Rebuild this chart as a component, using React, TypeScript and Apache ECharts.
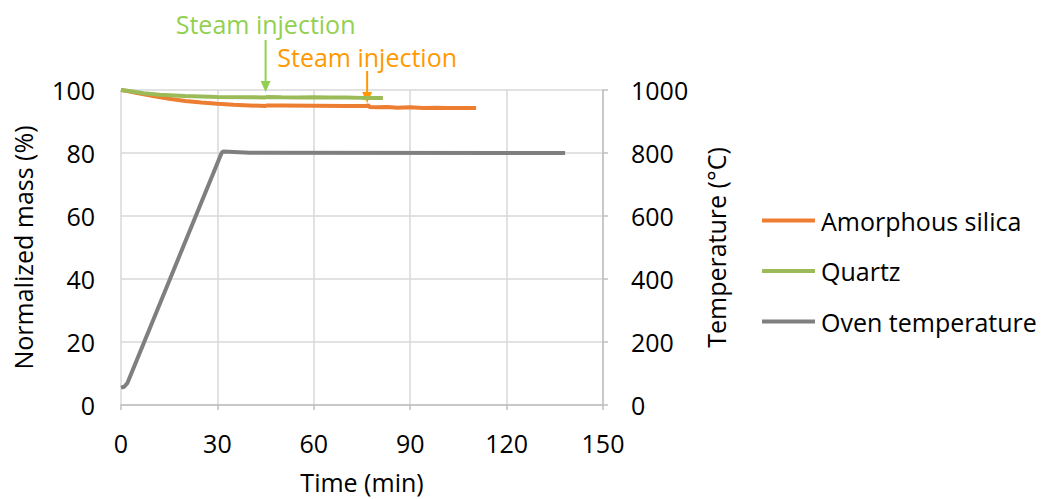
import React, { useEffect, useRef } from "react";
import * as echarts from "echarts";

const FONT = "Open Sans";
const FS = 25;

const xTicks = [0, 30, 60, 90, 120, 150];

const timeAmorphous = [0, 2, 5, 10, 15, 20, 25, 30, 35, 40, 44.9, 45.3, 50, 60, 70, 76.6, 76.9, 77.3, 80, 83, 86, 90, 94, 98, 102, 106, 110.5];
const massAmorphous = [100, 99.7, 99.0, 98.1, 97.2, 96.5, 96.0, 95.6, 95.3, 95.1, 94.9, 95.1, 95.1, 95.0, 94.9, 94.9, 95.3, 94.6, 94.5, 94.6, 94.4, 94.5, 94.3, 94.4, 94.3, 94.3, 94.3];

const timeQuartz = [0, 3, 7, 12, 20, 30, 40, 44.9, 45.3, 50, 55, 60, 65, 70, 75, 81.5];
const massQuartz = [100, 99.6, 99.0, 98.5, 98.1, 97.8, 97.7, 97.6, 97.8, 97.7, 97.6, 97.7, 97.6, 97.6, 97.5, 97.5];

const timeOven = [0, 1, 2, 31.3, 31.8, 40, 138.2];
const tempOven = [55, 58, 70, 800, 805, 801, 800];

const annotTime = [45, 76.6];
const annotTip = [99.4, 95.9];
const annotLabel = ["Steam injection", "Steam injection"];
const annotColor = ["#92d050", "#ff9900"];
const annotTextY = [24, 57];
const annotTailY = [40, 71];

const zip = (a: number[], b: number[]) => a.map((v, i) => [v, b[i]]);

export default function App() {
  const ref = useRef<HTMLDivElement>(null);
  useEffect(() => {
    if (!ref.current) return;
    const chart = echarts.init(ref.current, null, { renderer: "svg" });
    const axisText = { color: "#000", fontFamily: FONT, fontSize: FS };
    chart.setOption({
      animation: false,
      textStyle: { fontFamily: FONT },
      grid: { left: 121, right: 441, top: 90, bottom: 92 },
      legend: {
        orient: "vertical",
        left: 762,
        top: 208,
        padding: 0,
        itemWidth: 53,
        itemHeight: 4,
        itemGap: 25.5,
        icon: "rect",
        textStyle: { color: "#000", fontFamily: FONT, fontSize: FS, padding: [0, 0, 0, 1] },
        data: ["Amorphous silica", "Quartz", "Oven temperature"],
      },
      xAxis: {
        type: "value",
        min: 0,
        max: 150,
        interval: 30,
        name: "Time (min)",
        nameLocation: "middle",
        nameGap: 64,
        nameTextStyle: axisText,
        axisLabel: { ...axisText, margin: 25 },
        axisLine: { lineStyle: { color: "#bfbfbf", width: 1.5 } },
        axisTick: { show: true, length: 5, lineStyle: { color: "#bfbfbf", width: 1.5 } },
        splitLine: { show: true, lineStyle: { color: "#d9d9d9", width: 1.5 } },
        data: xTicks,
      },
      yAxis: [
        {
          type: "value",
          min: 0,
          max: 100,
          interval: 20,
          name: "Normalized mass (%)",
          nameLocation: "middle",
          nameGap: 86,
          nameRotate: 90,
          nameTextStyle: axisText,
          axisLabel: { ...axisText, margin: 26 },
          axisLine: { show: false },
          axisTick: { show: false },
          splitLine: { show: true, lineStyle: { color: "#d9d9d9", width: 1.5 } },
        },
        {
          type: "value",
          min: 0,
          max: 1000,
          interval: 200,
          position: "right",
          name: "Temperature (°C)",
          nameLocation: "middle",
          nameGap: 100,
          nameRotate: 90,
          nameTextStyle: axisText,
          axisLabel: { ...axisText, margin: 28, formatter: (v: number) => String(v) },
          axisLine: { show: true, lineStyle: { color: "#bfbfbf", width: 1.5 } },
          axisTick: { show: true, length: 5, lineStyle: { color: "#bfbfbf", width: 1.5 } },
          splitLine: { show: false },
        },
      ],
      series: [
        {
          name: "Amorphous silica",
          type: "line",
          yAxisIndex: 0,
          showSymbol: false,
          data: zip(timeAmorphous, massAmorphous),
          lineStyle: { color: "#ed7d31", width: 4 },
          itemStyle: { color: "#ed7d31" },
        },
        {
          name: "Quartz",
          type: "line",
          yAxisIndex: 0,
          showSymbol: false,
          data: zip(timeQuartz, massQuartz),
          lineStyle: { color: "#9bbb59", width: 4 },
          itemStyle: { color: "#9bbb59" },
        },
        {
          name: "Oven temperature",
          type: "line",
          yAxisIndex: 1,
          showSymbol: false,
          data: zip(timeOven, tempOven),
          lineStyle: { color: "#7f7f7f", width: 4 },
          itemStyle: { color: "#7f7f7f" },
        },
      ],
    });

    const elements: any[] = [];
    annotTime.forEach((t, i) => {
      const tip = chart.convertToPixel({ xAxisIndex: 0, yAxisIndex: 0 }, [t, annotTip[i]]) as number[];
      const x = tip[0];
      const yTip = tip[1];
      const c = annotColor[i];
      elements.push({
        type: "text",
        x,
        y: annotTextY[i],
        style: {
          text: annotLabel[i],
          fill: c,
          font: `${FS}px "${FONT}"`,
          align: "center",
          verticalAlign: "middle",
        },
      });
      elements.push({
        type: "line",
        shape: { x1: x, y1: annotTailY[i], x2: x, y2: yTip - 8 },
        style: { stroke: c, lineWidth: 2 },
      });
      elements.push({
        type: "polygon",
        shape: { points: [[x - 5, yTip - 11], [x + 5, yTip - 11], [x, yTip]] },
        style: { fill: c },
      });
    });
    chart.setOption({ graphic: elements });

    return () => chart.dispose();
  }, []);
  return (
    <div
      ref={ref}
      style={{ position: "fixed", left: 0, top: 0, width: 1044, height: 499, background: "#fff" }}
    />
  );
}
